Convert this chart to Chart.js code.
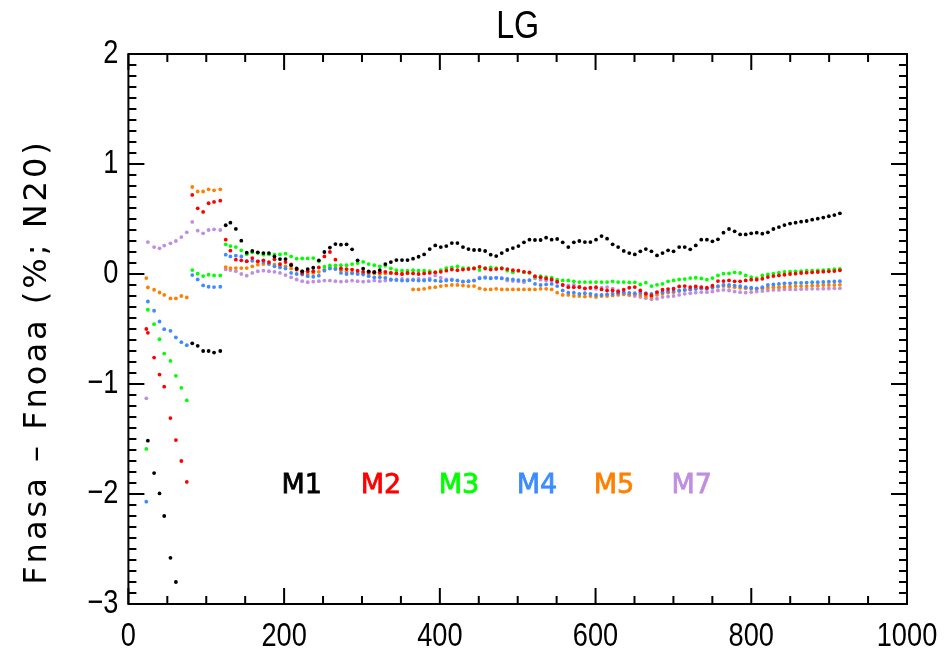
<!DOCTYPE html>
<html>
<head>
<meta charset="utf-8">
<title>LG</title>
<script src="https://cdn.jsdelivr.net/npm/chart.js@4.4.1/dist/chart.umd.min.js"></script>
<style>
  html, body { margin: 0; padding: 0; background: #fff; }
  #wrap { width: 949px; height: 652px; }
</style>
</head>
<body>
<div id="wrap"><canvas id="chart" width="949" height="652"></canvas></div>
<script>
// sample positions along x
const xValues = [23, 25, 33, 40, 46, 54, 61, 68, 75, 82,
  89, 96, 103, 110, 118, 125, 131, 138, 145, 152,
  159.1, 166.2, 173.4, 180.5, 187.6, 194.7, 201.8, 209.0, 216.1, 223.2,
  230.3, 237.4, 244.6, 251.7, 258.8, 265.9, 273.0, 280.2, 287.3, 294.4,
  301.5, 308.6, 315.8, 322.9, 330.0, 337.1, 344.2, 351.4, 358.5, 365.6,
  372.7, 379.8, 387.0, 394.1, 401.2, 408.3, 415.4, 422.6, 429.7, 436.8,
  443.9, 451.0, 458.2, 465.3, 472.4, 479.5, 486.6, 493.8, 500.9, 508.0,
  515.1, 522.2, 529.4, 536.5, 543.6, 550.7, 557.8, 565.0, 572.1, 579.2,
  586.3, 593.4, 600.6, 607.7, 614.8, 621.9, 629.0, 636.2, 643.3, 650.4,
  657.5, 664.6, 671.8, 678.9, 686.0, 693.1, 700.2, 707.4, 714.5, 721.6,
  728.7, 735.8, 743.0, 750.1, 757.2, 764.3, 771.4, 778.6, 785.7, 792.8,
  799.9, 807.0, 814.2, 821.3, 828.4, 835.5, 842.6, 849.8, 856.9, 864.0,
  871.1, 878.2, 885.4, 892.5, 899.6, 906.7, 913.8];

const m1 = [null, -1.515, -1.81, -1.995, -2.2, -2.58, -2.8, null, null, -0.63,
  -0.653, -0.7, -0.7, -0.714, -0.7, 0.443, 0.467, 0.41, 0.303, 0.194,
  0.209, 0.197, 0.19, 0.19, 0.16, 0.136, 0.136, 0.08, 0.05, 0.024,
  0.045, 0.057, 0.124, 0.2, 0.24, 0.272, 0.267, 0.27, 0.224, 0.124,
  0.048, 0.024, 0.017, 0.036, 0.09, 0.108, 0.127, 0.127, 0.127, 0.139,
  0.157, 0.178, 0.227, 0.26, 0.245, 0.254, 0.281, 0.281, 0.245, 0.227,
  0.218, 0.218, 0.209, 0.176, 0.163, 0.19, 0.218, 0.236, 0.254, 0.288,
  0.312, 0.309, 0.309, 0.33, 0.312, 0.318, 0.288, 0.245, 0.288, 0.3,
  0.29, 0.29, 0.312, 0.345, 0.321, 0.27, 0.245, 0.21, 0.19, 0.178,
  0.206, 0.227, 0.206, 0.169, 0.19, 0.215, 0.206, 0.245, 0.245, 0.224,
  0.26, 0.312, 0.312, 0.297, 0.315, 0.376, 0.409, 0.388, 0.36, 0.36,
  0.37, 0.376, 0.367, 0.379, 0.409, 0.427, 0.445, 0.458, 0.467, 0.476,
  0.482, 0.494, 0.503, 0.513, 0.525, 0.536, 0.552];

const m2 = [-0.5, -0.535, -0.76, -0.914, -1.024, -1.31, -1.51, -1.7, -1.89, 0.719,
  0.597, 0.564, 0.643, 0.655, 0.667, 0.312, 0.212, 0.13, 0.124, 0.117,
  0.145, 0.115, 0.124, 0.108, 0.133, 0.09, 0.108, 0.087, 0.039, 0.008,
  0.024, 0.024, 0.06, 0.16, 0.2, 0.13, 0.05, 0.045, 0.04, 0.03,
  0.02, 0.015, 0.02, 0.015, 0.02, 0.01, 0.005, 0.0, 0.01, 0.005,
  0.0, 0.005, 0.01, 0.015, 0.02, 0.03, 0.04, 0.035, 0.04, 0.045,
  0.05, 0.065, 0.05, 0.04, 0.045, 0.05, 0.045, 0.035, 0.03, 0.02,
  0.015, -0.02, -0.03, -0.04, -0.05, -0.07, -0.1, -0.12, -0.12, -0.12,
  -0.13, -0.125, -0.12, -0.14, -0.15, -0.15, -0.16, -0.143, -0.125, -0.119,
  -0.149, -0.18, -0.195, -0.164, -0.143, -0.137, -0.134, -0.113, -0.11, -0.119,
  -0.113, -0.119, -0.125, -0.107, -0.064, -0.064, -0.058, -0.067, -0.067, -0.058,
  -0.052, -0.052, -0.043, -0.028, -0.019, -0.013, -0.007, 0.0, 0.003, 0.009,
  0.012, 0.015, 0.018, 0.021, 0.024, 0.027, 0.033];

const m3 = [-1.59, -0.325, -0.456, -0.593, -0.723, -0.79, -0.926, -1.035, -1.148, 0.036,
  0.003, -0.019, -0.006, -0.013, -0.013, 0.27, 0.254, 0.245, 0.215, 0.18,
  0.197, 0.19, 0.176, 0.178, 0.176, 0.178, 0.185, 0.16, 0.139, 0.142,
  0.142, 0.145, 0.115, 0.066, 0.078, 0.078, 0.08, 0.08, 0.09, 0.1,
  0.11, 0.09, 0.08, 0.07, 0.075, 0.05, 0.035, 0.03, 0.03, 0.035,
  0.03, 0.03, 0.025, 0.017, 0.036, 0.054, 0.06, 0.07, 0.054, 0.054,
  0.054, 0.036, 0.054, 0.06, 0.054, 0.054, 0.03, 0.017, 0.03, 0.017,
  0.01, -0.028, -0.02, -0.028, -0.034, -0.052, -0.058, -0.058, -0.067, -0.073,
  -0.073, -0.073, -0.073, -0.073, -0.073, -0.067, -0.073, -0.073, -0.076, -0.076,
  -0.095, -0.079, -0.11, -0.098, -0.089, -0.067, -0.058, -0.049, -0.046, -0.037,
  -0.034, -0.04, -0.052, -0.037, -0.013, 0.003, 0.006, 0.015, 0.009, -0.013,
  -0.028, -0.037, -0.013, -0.004, 0.003, 0.012, 0.018, 0.021, 0.024, 0.027,
  0.03, 0.03, 0.033, 0.036, 0.039, 0.043, 0.046];

const m4 = [-2.07, -0.25, -0.334, -0.432, -0.502, -0.517, -0.577, -0.62, -0.647, -0.01,
  -0.049, -0.104, -0.116, -0.119, -0.116, 0.176, 0.16, 0.167, 0.16, 0.115,
  0.12, 0.115, 0.11, 0.09, 0.07, 0.06, 0.05, 0.01, 0.0, -0.005,
  -0.02, -0.025, -0.015, 0.03, 0.05, 0.045, 0.01, 0.0, 0.005, 0.0,
  -0.005, -0.02, -0.03, -0.03, -0.035, -0.05, -0.055, -0.06, -0.06, -0.055,
  -0.06, -0.06, -0.055, -0.06, -0.065, -0.06, -0.055, -0.06, -0.07, -0.065,
  -0.06, -0.04, -0.035, -0.04, -0.035, -0.04, -0.045, -0.05, -0.055, -0.06,
  -0.055, -0.09, -0.1, -0.095, -0.09, -0.11, -0.15, -0.17, -0.17, -0.18,
  -0.175, -0.18, -0.19, -0.19, -0.185, -0.18, -0.175, -0.17, -0.172, -0.175,
  -0.17, -0.175, -0.18, -0.17, -0.165, -0.16, -0.155, -0.15, -0.145, -0.14,
  -0.135, -0.13, -0.135, -0.125, -0.11, -0.1, -0.1, -0.105, -0.11, -0.12,
  -0.125, -0.13, -0.12, -0.1, -0.095, -0.09, -0.085, -0.085, -0.08, -0.08,
  -0.078, -0.075, -0.075, -0.072, -0.07, -0.068, -0.065];

const m5 = [-0.037, -0.122, -0.143, -0.168, -0.19, -0.222, -0.222, -0.2, -0.213, 0.791,
  0.75, 0.75, 0.77, 0.761, 0.77, 0.063, 0.054, 0.054, 0.054, 0.054,
  0.07, 0.085, 0.09, 0.095, 0.085, 0.075, 0.07, 0.05, 0.045, 0.025,
  0.0, 0.01, 0.02, 0.04, 0.055, 0.05, 0.035, 0.02, 0.015, 0.01,
  0.005, 0.0, 0.005, 0.0, 0.005, 0.01, 0.005, 0.0, 0.005, -0.14,
  -0.14, -0.135, -0.125, -0.12, -0.11, -0.105, -0.1, -0.1, -0.105, -0.11,
  -0.11, -0.13, -0.14, -0.14, -0.135, -0.14, -0.14, -0.14, -0.14, -0.14,
  -0.14, -0.14, -0.135, -0.135, -0.14, -0.17, -0.19, -0.19, -0.2, -0.2,
  -0.205, -0.2, -0.21, -0.2, -0.2, -0.195, -0.19, -0.185, -0.19, -0.185,
  -0.19, -0.2, -0.21, -0.19, -0.18, -0.17, -0.165, -0.155, -0.145, -0.14,
  -0.135, -0.13, -0.13, -0.12, -0.115, -0.11, -0.115, -0.12, -0.125, -0.13,
  -0.135, -0.135, -0.13, -0.125, -0.12, -0.12, -0.115, -0.115, -0.11, -0.11,
  -0.11, -0.105, -0.105, -0.1, -0.1, -0.1, -0.098];

const m7 = [-1.13, 0.29, 0.245, 0.233, 0.258, 0.279, 0.3, 0.336, 0.379, 0.473,
  0.394, 0.37, 0.4, 0.406, 0.4, 0.042, 0.036, 0.026, 0.0, -0.015,
  0.01, 0.025, 0.03, 0.025, 0.02, 0.01, -0.01, -0.03, -0.05, -0.065,
  -0.075, -0.07, -0.065, -0.06, -0.06, -0.065, -0.07, -0.065, -0.06, -0.065,
  -0.07, -0.065, -0.06, -0.065, -0.06, -0.055, -0.05, -0.045, -0.05, -0.05,
  -0.045, -0.05, -0.04, -0.013, -0.034, -0.049, -0.049, -0.058, -0.067, -0.067,
  -0.058, -0.034, -0.028, -0.034, -0.034, -0.037, -0.058, -0.064, -0.067, -0.074,
  -0.058, -0.04, -0.052, -0.058, -0.058, -0.074, -0.098, -0.104, -0.098, -0.113,
  -0.134, -0.128, -0.134, -0.125, -0.119, -0.134, -0.15, -0.17, -0.19, -0.2,
  -0.21, -0.22, -0.23, -0.225, -0.21, -0.205, -0.2, -0.19, -0.18, -0.175,
  -0.17, -0.165, -0.165, -0.16, -0.15, -0.145, -0.15, -0.16, -0.165, -0.17,
  -0.165, -0.16, -0.155, -0.15, -0.145, -0.145, -0.14, -0.14, -0.14, -0.138,
  -0.136, -0.135, -0.135, -0.133, -0.132, -0.13, -0.13];

const seriesNames = ['M1', 'M2', 'M3', 'M4', 'M5', 'M7'];
const seriesColors = ['#000000', '#ff0000', '#00ff00', '#3c8cff', '#ff8000', '#c08ee0'];
const xTicks = [0, 200, 400, 600, 800, 1000];
const yTicks = [-3, -2, -1, 0, 1, 2];

const narrowFont = '"Liberation Sans", sans-serif';
const roundFont = '"DejaVu Sans", sans-serif';

function toPoints(values) {
    const pts = [];
    values.forEach((v, i) => {
        if (v !== null) pts.push({ x: xValues[i], y: v });
    });
    return pts;
}

function tickText(v) {
    return v < 0 ? '\u2212' + Math.abs(v) : String(v);
}

// squeezed text, the plot's labels use a tall narrow face
function narrowText(ctx, text, x, y, align, size, squeeze) {
    ctx.save();
    ctx.translate(x, y);
    ctx.scale(squeeze, 1);
    ctx.font = size + 'px ' + narrowFont;
    ctx.textAlign = align;
    ctx.textBaseline = 'middle';
    ctx.fillText(text, 0, 0);
    ctx.restore();
}

// IDL-style box with inward ticks, labels and rotated y title
const idlFrame = {
    id: 'idlFrame',
    afterDraw(chart) {
        const { ctx, chartArea: a } = chart;
        const xs = chart.scales.x, ys = chart.scales.y;
        ctx.save();
        ctx.strokeStyle = '#000';
        ctx.lineWidth = 2;
        ctx.strokeRect(a.left, a.top, a.right - a.left, a.bottom - a.top);
        ctx.beginPath();
        for (let v = 0; v <= 1000; v += 50) {
            const px = xs.getPixelForValue(v);
            const len = v % 200 === 0 ? 16 : 8;
            ctx.moveTo(px, a.bottom); ctx.lineTo(px, a.bottom - len);
            ctx.moveTo(px, a.top); ctx.lineTo(px, a.top + len);
        }
        for (let i = -30; i <= 20; i++) {
            const py = ys.getPixelForValue(i / 10);
            const len = i % 10 === 0 ? 16 : 8;
            ctx.moveTo(a.left, py); ctx.lineTo(a.left + len, py);
            ctx.moveTo(a.right, py); ctx.lineTo(a.right - len, py);
        }
        ctx.stroke();

        // tick labels and title
        ctx.fillStyle = '#000';
        xTicks.forEach(v => narrowText(ctx, tickText(v), xs.getPixelForValue(v), a.bottom + 33, 'center', 34, 0.8));
        yTicks.forEach(v => narrowText(ctx, tickText(v), a.left - 10, ys.getPixelForValue(v), 'right', 34, 0.8));
        narrowText(ctx, 'LG', (a.left + a.right) / 2, 28, 'center', 38, 0.85);

        // series labels inside the plot
        const labelX = [222.6, 324.5, 424.6, 524.8, 623.7, 723.6];
        ctx.font = '27px ' + roundFont;
        ctx.textAlign = 'center';
        ctx.textBaseline = 'middle';
        ctx.lineWidth = 0.8;
        seriesNames.forEach((name, i) => {
            const px = xs.getPixelForValue(labelX[i]);
            const py = ys.getPixelForValue(-1.925);
            ctx.fillStyle = seriesColors[i];
            ctx.strokeStyle = seriesColors[i];
            ctx.fillText(name, px, py);
            ctx.strokeText(name, px, py);
        });

        // y axis title
        ctx.fillStyle = '#000';
        ctx.translate(38, 362);
        ctx.rotate(-Math.PI / 2);
        ctx.font = '32px ' + roundFont;
        ctx.letterSpacing = '3px';
        ctx.fillText('Fnasa \u2013 Fnoaa (%; N20)', 0, 0);
        ctx.restore();
    }
};

const ctx = document.getElementById('chart').getContext('2d');

const chart = new Chart(ctx, {
    type: 'scatter',
    data: {
        datasets: seriesNames.map((name, i) => ({
            label: name,
            data: toPoints([m1, m2, m3, m4, m5, m7][i]),
            backgroundColor: seriesColors[i],
            borderColor: seriesColors[i],
            pointRadius: 1.9,
            pointHoverRadius: 1.9,
            pointBorderWidth: 0,
            showLine: false
        }))
    },
    options: {
        responsive: false,
        animation: false,
        layout: { padding: { left: 0, right: 42, top: 54, bottom: 0 } },
        plugins: {
            legend: { display: false },
            tooltip: { enabled: false },
            title: { display: false }
        },
        scales: {
            x: {
                type: 'linear',
                min: 0,
                max: 1000,
                grid: { display: false, drawTicks: false },
                border: { display: false },
                afterBuildTicks: s => { s.ticks = xTicks.map(v => ({ value: v })); },
                afterFit: s => { s.height = 48; },
                ticks: { display: false }
            },
            y: {
                type: 'linear',
                min: -3,
                max: 2,
                grid: { display: false, drawTicks: false },
                border: { display: false },
                afterBuildTicks: s => { s.ticks = yTicks.map(v => ({ value: v })); },
                afterFit: s => { s.width = 128.4; },
                ticks: { display: false }
            }
        }
    },
    plugins: [idlFrame]
});
</script>
</body>
</html>
